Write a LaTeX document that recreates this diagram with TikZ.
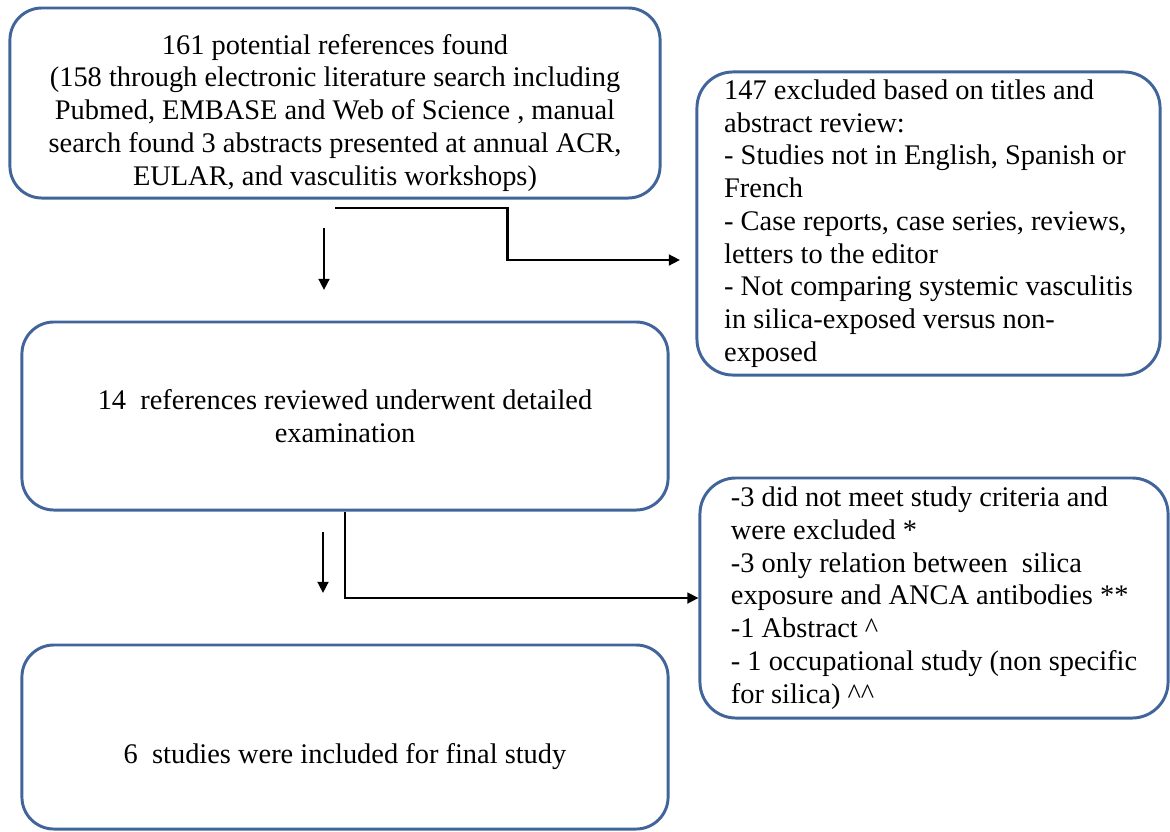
\documentclass[tikz,border=0pt]{standalone}
\usepackage{fontspec}
\setmainfont{Liberation Serif}
\usetikzlibrary{positioning,arrows.meta,calc}
\definecolor{BoxBlue}{HTML}{41659A}

\begin{document}
\begin{tikzpicture}[
  x=0.025cm, y=-0.025cm,
  block/.style = {draw=BoxBlue, line width=2.1pt, rounded corners=0.8cm,
                  align=center, inner sep=0pt,
                  font=\fontsize{20.2pt}{23.3pt}\selectfont},
  excl/.style  = {block, align=left, rounded corners=0.9cm},
  arr/.style   = {-{Triangle[length=0.28cm,width=0.27cm]}, line width=1.7pt, black}
]
  \useasboundingbox (0,0) rectangle (1170,831);

  % main column
  \node[block, minimum width=16.25cm, minimum height=4.75cm] (found) at (335,103)
    {\raisebox{-0.25cm}[\height][\depth]{\begin{tabular}{@{}c@{}}
     161 potential references found\\
     (158 through electronic literature search including\\
     Pubmed, EMBASE and Web of Science , manual\\
     search found 3 abstracts presented at annual ACR,\\
     EULAR, and vasculitis workshops)\end{tabular}}};
  \node[block, minimum width=16.15cm, minimum height=4.7cm] (review) at (345,416)
    {14\ \ references reviewed underwent detailed\\ examination};
  \node[block, minimum width=16.15cm, minimum height=4.6cm] (final) at (345,737)
    {\raisebox{-0.5cm}[\height][\depth]{6\ \ studies were included for final study}};

  % exclusion boxes
  \node[excl, minimum width=11.575cm, minimum height=7.575cm] (excl1) at (928.5,223.5)
    {147 excluded based on titles and\\
     abstract review:\\
     - Studies not in English, Spanish or\\
     French\\
     - Case reports, case series, reviews,\\
     letters to the editor\\
     - Not comparing systemic vasculitis\\
     in silica-exposed versus non-\\
     exposed};
  \node[excl, minimum width=11.7cm, minimum height=6cm] (excl2) at (934,598)
    {-3 did not meet study criteria and\\
     were excluded *\\
     -3 only relation between\ \ silica\\
     exposure and ANCA antibodies **\\
     -1 Abstract \textasciicircum\\
     - 1 occupational study (non specific\\
     for silica) \textasciicircum\textasciicircum};

  % connectors
  \coordinate (dn1a) at (324,228);
  \coordinate (dn1b) at (324,290);
  \coordinate (cut1) at (335,208);
  \coordinate (tip1) at (680,260);
  \coordinate (dn2a) at (323,532);
  \coordinate (dn2b) at (323,593);

  \draw[arr] (dn1a) -- (dn1b);
  \draw[arr] (cut1) -| ($(cut1)!0.5!(tip1)$) |- (tip1);
  \draw[arr] (dn2a) -- (dn2b);
  \draw[arr] (review.south) |- (excl2.west);
\end{tikzpicture}
\end{document}
